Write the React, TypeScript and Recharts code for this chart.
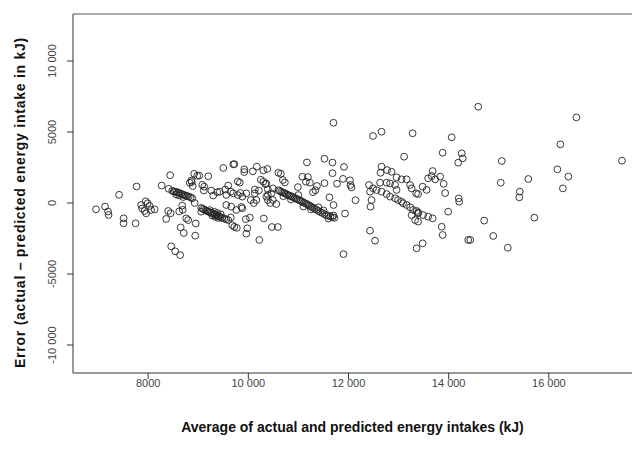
import React from 'react';
import { ScatterChart, Scatter, XAxis, YAxis, ReferenceLine } from 'recharts';

const xDomain: [number, number] = [6500, 17660];
const yDomain: [number, number] = [-11970, 13310];
const xTicks = [8000, 10000, 12000, 14000, 16000];
const xTickLabels = ['8000', '10 000', '12 000', '14 000', '16 000'];
const yTicks = [-10000, -5000, 0, 5000, 10000];
const yTickLabels = ['-10 000', '-5000', '0', '5000', '10 000'];
const xTitle = 'Average of actual and predicted energy intakes (kJ)';
const yTitle = 'Error (actual \u2013 predicted energy intake in kJ)';

// [average intake, error] pairs, grouped by average intake range
const pointsUnder8500 = [
  [6960, -440], [7140, -250], [7200, -600], [7210, -840], [7420, 580], [7510, -1080], [7510, -1430],
  [7750, -1430], [7770, 1160], [7860, -140], [7880, -380], [7930, -560], [7960, -730], [7950, 120],
  [7990, -20], [8030, -210], [8060, -490], [8130, -450], [8270, 1230], [8360, -1120], [8400, -560],
  [8410, 1000], [8440, 1960], [8450, -720], [8460, -3050], [8480, 860],
];

const points8500to9000 = [
  [8510, 820], [8540, -3400], [8540, 790], [8560, 600], [8570, 770], [8600, 740], [8620, 530],
  [8620, -590], [8630, 690], [8640, -3670], [8650, -1720], [8660, 640], [8680, -180], [8690, -480],
  [8690, 600], [8700, 420], [8710, -2110], [8720, 560], [8750, 520], [8760, -1080], [8780, 490],
  [8800, -1200], [8810, 450], [8830, 1420], [8850, 400], [8860, 1580], [8870, 1480], [8880, 330],
  [8890, 1190], [8920, 2060], [8930, 0], [8940, -2300], [8950, -1440], [8980, 1920],
];

const points9000to9700 = [
  [9020, 1930], [9060, -350], [9060, -610], [9080, 1280], [9090, -400], [9110, 880], [9120, 1150],
  [9120, -460], [9150, -520], [9180, -570], [9200, 1880], [9210, -620], [9230, -500], [9240, -660],
  [9260, 880], [9270, -700], [9280, -880], [9300, 530], [9300, -760], [9320, -620], [9330, -800],
  [9340, -980], [9360, -850], [9380, 760], [9380, -700], [9390, -900], [9400, -1050], [9420, -950],
  [9430, 800], [9450, -1000], [9450, -800], [9480, -1050], [9500, 2470], [9520, -1100], [9540, 950],
  [9560, 570], [9560, -140], [9560, -1150], [9600, 1230], [9600, -1200], [9650, 800], [9650, -1020],
  [9660, -260], [9680, -1560], [9700, 680], [9700, 2720],
];

const points9700to10600 = [
  [9720, 2740], [9720, -1680], [9770, -1750], [9760, -490], [9790, 560], [9790, 1520], [9830, 1430],
  [9840, 710], [9860, -280], [9880, 450], [9880, -370], [9920, 2370], [9920, 2180], [9950, -1140],
  [9960, 680], [9960, -2160], [9980, -1780], [10030, -1020], [10050, 210], [10090, 2230], [10110, 0],
  [10130, 950], [10130, 680], [10160, 210], [10170, 2560], [10220, -2600], [10210, 880], [10250, 1640],
  [10300, 2300], [10300, 1500], [10310, -1090], [10340, 1330], [10380, 2400], [10360, 1380],
  [10390, 570], [10390, 960], [10360, 450], [10390, 210], [10440, 0], [10460, 680], [10490, 1030],
  [10490, 210], [10560, -70], [10470, -1690], [10590, -1690],
];

const points10600to12200 = [
  [10600, 900], [10630, 850], [10660, 790], [10690, 740], [10720, 700], [10750, 640], [10780, 590],
  [10810, 530], [10840, 500], [10870, 450], [10900, 400], [10930, 350], [10960, 300], [10990, 240],
  [11020, 200], [11050, 140], [11080, 90], [11110, 20], [11140, -30], [11170, -80], [11200, -140],
  [11230, -210], [11260, -260], [11290, -330], [11320, -400], [11360, -470], [11400, -560],
  [11440, -640], [11480, -700], [11520, -790], [11560, -850], [11600, -900], [11640, -950],
  [11680, -1000], [11720, -1040], [10700, 480], [10850, 250], [11000, 560], [11100, -250],
  [11250, -450], [11400, -300], [11500, -520], [11600, -1090], [11700, -880],
  [10600, 2130], [10650, 2060], [10690, 1620], [10730, 1450], [10990, 1120], [11080, 1850],
  [11190, 1830], [11150, 1500], [11230, 1430], [11170, 2860], [11370, 1200], [11340, 900],
  [11290, 760], [11520, 1400], [11520, 3120], [11680, 2850], [11680, 2100], [11770, 1360],
  [11890, 1700], [11910, 2540], [12030, 1600], [12040, 1270], [12060, 1100], [11700, 5650],
  [11620, 400], [11700, -140], [12140, 200], [11930, -740], [11900, -3600],
];

const points12200to14000 = [
  [12410, 1270], [12430, 800], [12460, 210], [12440, -260], [12430, -1950], [12530, -2650],
  [12490, 4720], [12660, 5020], [12490, 1030], [12560, 910], [12660, 800], [12760, 630], [12830, 450],
  [12930, 330], [12990, 210], [13060, 90], [13090, -20], [13160, -140], [13230, -300], [13290, -490],
  [13390, -730], [13490, -850], [13590, -960], [13680, -1080], [13260, -850], [13330, -1200],
  [13390, -1310], [13360, -560], [13390, -660], [12640, 2130], [12660, 2560], [12770, 2320],
  [12860, 2200], [12960, 1810], [13060, 1670], [13160, 1670], [13230, 1270], [13260, 1030],
  [12630, 1430], [12760, 1430], [12830, 1380], [12930, 1270], [12960, 920], [13110, 3260],
  [13280, 4910], [13350, 680], [13390, 630], [13480, 1150], [13560, 920], [13590, 1740],
  [13660, 1900], [13680, 2250], [13730, 1670], [13830, 1860], [13880, 3540], [13360, -3190],
  [13480, -2840], [13860, -1670], [13880, -2250], [13930, 700], [13900, 1350], [13990, -610],
];

const pointsOver14000 = [
  [14060, 4625], [14190, 2840], [14260, 3500], [14280, 3145], [14200, 330], [14210, 90],
  [14390, -2600], [14430, -2600], [14590, 6780], [14710, -1240], [14890, -2320], [15040, 1430],
  [15060, 2960], [15180, -3150], [15410, 400], [15420, 800], [15590, 1690], [15710, -1030],
  [16170, 2370], [16230, 4130], [16280, 1030], [16390, 1860], [16550, 6030], [17460, 2980],
];

const allPoints = [
  ...pointsUnder8500,
  ...points8500to9000,
  ...points9000to9700,
  ...points9700to10600,
  ...points10600to12200,
  ...points12200to14000,
  ...pointsOver14000,
].map(([avg, err]) => ({ avg, err }));

const FONT = '"Liberation Sans", Arial, sans-serif';

const XTick = (props: any) => {
  const { x, y, payload } = props;
  const i = xTicks.indexOf(payload.value);
  return (
    <text x={x} y={y} dy={8} textAnchor="middle" fontSize={11} fill="#444" fontFamily={FONT}>
      {xTickLabels[i]}
    </text>
  );
};

const YTick = (props: any) => {
  const { x, y, payload } = props;
  const i = yTicks.indexOf(payload.value);
  const bx = x - 9;
  return (
    <text x={bx} y={y} transform={`rotate(-90 ${bx} ${y})`} textAnchor="middle" fontSize={11} fill="#444" fontFamily={FONT}>
      {yTickLabels[i]}
    </text>
  );
};

const OpenCircle = (props: any) => {
  const { cx, cy } = props;
  if (cx == null || cy == null) return null;
  return <circle cx={cx} cy={cy} r={3.4} fill="none" stroke="#222" strokeWidth={0.9} />;
};

const XTitle = (props: any) => {
  const vb = props.viewBox || { x: 73, width: 559, y: 373 };
  return (
    <text x={vb.x + vb.width / 2} y={432} textAnchor="middle" fontSize={14} fontWeight="bold" fill="#111" fontFamily={FONT}>
      {xTitle}
    </text>
  );
};

const YTitle = (props: any) => {
  const vb = props.viewBox || { y: 14, height: 359 };
  const cx = 25;
  const cy = vb.y + vb.height / 2 + 9;
  return (
    <text x={cx} y={cy} transform={`rotate(-90 ${cx} ${cy})`} textAnchor="middle" fontSize={14} fontWeight="bold" letterSpacing={0.75} fill="#111" fontFamily={FONT}>
      {yTitle}
    </text>
  );
};

export default function App() {
  return (
    <div style={{ position: 'absolute', left: 0, top: 0, width: 632, height: 454, background: '#fff' }}>
      <ScatterChart width={632} height={454} margin={{ top: 14, right: 0, bottom: 21, left: 13 }}>
        <XAxis
          type="number"
          dataKey="avg"
          domain={xDomain}
          ticks={xTicks}
          allowDataOverflow
          height={60}
          tickSize={6}
          tickMargin={0}
          stroke="#333"
          tick={<XTick />}
          label={{ content: <XTitle /> }}
        />
        <YAxis
          type="number"
          dataKey="err"
          domain={yDomain}
          ticks={yTicks}
          allowDataOverflow
          width={60}
          tickSize={6}
          tickMargin={2}
          stroke="#333"
          tick={<YTick />}
          label={{ content: <YTitle /> }}
        />
        <ReferenceLine y={yDomain[1]} stroke="#555" strokeWidth={1} />
        <Scatter data={allPoints} isAnimationActive={false} shape={<OpenCircle />} />
      </ScatterChart>
    </div>
  );
}
